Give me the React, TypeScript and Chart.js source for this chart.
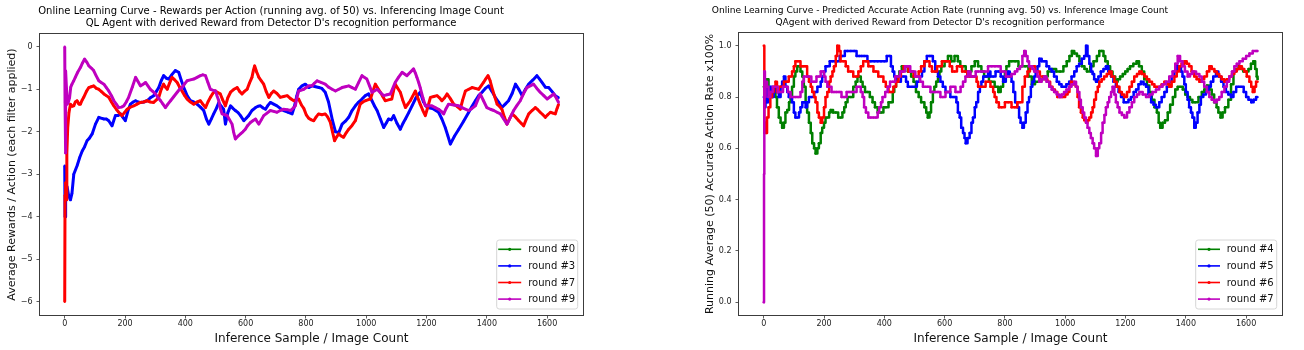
import React, { useEffect, useRef } from "react";
import { Chart, registerables } from "chart.js";

Chart.register(...registerables);

type Pt = [number, number];

// ---------- shared ----------
const X_TICKS = [0, 200, 400, 600, 800, 1000, 1200, 1400, 1600];
const X_MIN = -82;
const X_MAX = 1719;
const SERIES_COLORS = ["#008000", "#0000ff", "#ff0000", "#bf00bf"];
const X_TITLE = "Inference Sample / Image Count";

// ---------- left chart ----------
const LEFT_TITLE = [
  "Online Learning Curve - Rewards per Action (running avg. of 50) vs. Inferencing Image Count",
  "QL Agent with derived Reward from Detector D's recognition performance",
];
const LEFT_Y_TITLE = "Average Rewards / Action (each filter applied)";
const LEFT_Y_TICKS = [-6, -5, -4, -3, -2, -1, 0];
const LEFT_Y_MIN = -6.31;
const LEFT_Y_MAX = 0.3;
const LEFT_LABELS = ["round #0", "round #3", "round #7", "round #9"];

const REWARD_R0: Pt[] = [];

const REWARD_R3: Pt[] = [
  [0,-2.8],[1,-4.0],[3,-3.0],[5,-3.25],[8,-3.3],[13,-3.5],[19,-3.6],[24,-3.45],[30,-3.0],[41,-2.8],[50,-2.6],[58,-2.45],[66,-2.35],[74,-2.21],[82,-2.15],[91,-2.05],[102,-1.82],[113,-1.66],[121,-1.68],[130,-1.7],[138,-1.7],[146,-1.74],[157,-1.86],[168,-1.62],[177,-1.62],[185,-1.58],[193,-1.66],[201,-1.74],[210,-1.5],[218,-1.35],[227,-1.3],[235,-1.27],[243,-1.3],[251,-1.31],[262,-1.3],[273,-1.27],[284,-1.2],[295,-1.15],[304,-1.05],[312,-0.96],[320,-0.8],[328,-0.68],[337,-0.74],[345,-0.76],[356,-0.65],[367,-0.56],[378,-0.6],[387,-0.8],[395,-0.96],[406,-1.15],[417,-1.27],[428,-1.3],[439,-1.35],[450,-1.42],[461,-1.5],[470,-1.7],[478,-1.82],[486,-1.7],[494,-1.58],[503,-1.45],[511,-1.31],[519,-1.4],[527,-1.47],[533,-1.82],[541,-1.55],[550,-1.39],[558,-1.45],[566,-1.5],[575,-1.55],[583,-1.62],[594,-1.74],[602,-1.68],[610,-1.62],[621,-1.5],[633,-1.43],[641,-1.4],[649,-1.39],[658,-1.44],[666,-1.47],[674,-1.38],[682,-1.31],[693,-1.35],[704,-1.39],[715,-1.45],[726,-1.5],[740,-1.54],[754,-1.58],[760,-1.45],[765,-1.31],[770,-1.15],[776,-1.0],[787,-0.92],[798,-0.88],
  [809,-0.96],[820,-0.92],[832,-0.94],[843,-0.96],[853,-0.98],[864,-1.07],[875,-1.3],[887,-1.7],[898,-2.0],[909,-2.02],[920,-1.82],[931,-1.75],[942,-1.66],[953,-1.5],[964,-1.39],[975,-1.3],[986,-1.23],[997,-1.15],[1008,-1.11],[1019,-1.27],[1028,-1.4],[1036,-1.5],[1047,-1.7],[1058,-1.9],[1066,-1.8],[1074,-1.7],[1083,-1.72],[1091,-1.62],[1102,-1.8],[1113,-1.94],[1122,-1.8],[1130,-1.7],[1141,-1.55],[1152,-1.39],[1165,-1.2],[1179,-1.07],[1190,-1.3],[1202,-1.43],[1220,-1.45],[1240,-1.54],[1251,-1.7],[1262,-1.9],[1271,-2.1],[1279,-2.29],[1293,-2.1],[1307,-1.94],[1323,-1.75],[1340,-1.54],[1351,-1.4],[1362,-1.27],[1373,-1.15],[1384,-1.07],[1395,-0.98],[1406,-0.92],[1417,-1.05],[1428,-1.19],[1439,-1.3],[1450,-1.43],[1461,-1.35],[1472,-1.27],[1484,-1.1],[1495,-0.88],[1506,-1.0],[1517,-1.15],[1528,-1.0],[1539,-0.88],[1553,-0.78],[1566,-0.68],[1575,-0.76],[1583,-0.84],[1594,-0.95],[1605,-0.96],[1616,-1.05],[1627,-1.15],[1638,-1.2],
];

const REWARD_R7: Pt[] = [
  [0,-6.0],[1,-3.5],[3,-3.2],[5,-3.6],[7,-2.5],[10,-1.9],[14,-1.55],[19,-1.35],[25,-1.4],[30,-1.39],[35,-1.3],[41,-1.27],[47,-1.35],[52,-1.35],[58,-1.25],[63,-1.19],[72,-1.05],[80,-0.96],[88,-0.94],[96,-0.92],[105,-0.98],[113,-1.0],[121,-1.05],[130,-1.11],[138,-1.15],[146,-1.19],[155,-1.3],[163,-1.39],[171,-1.47],[179,-1.54],[190,-1.62],[198,-1.55],[207,-1.47],[218,-1.42],[229,-1.39],[240,-1.35],[251,-1.31],[262,-1.3],[273,-1.27],[284,-1.3],[295,-1.31],[304,-1.25],[312,-1.19],[320,-1.0],[328,-0.88],[334,-0.95],[340,-1.0],[348,-0.85],[356,-0.72],[365,-0.78],[373,-0.84],[381,-0.95],[389,-1.04],[398,-1.15],[406,-1.23],[417,-1.3],[428,-1.35],[439,-1.3],[450,-1.27],[458,-1.35],[467,-1.43],[475,-1.3],[483,-1.19],[491,-1.1],[500,-1.04],[508,-1.08],[516,-1.11],[524,-1.25],[533,-1.39],[541,-1.2],[550,-1.07],[561,-1.0],[572,-0.96],[580,-1.05],[588,-1.11],[596,-1.05],[605,-1.0],[613,-0.85],[621,-0.72],[626,-0.55],[630,-0.45],[637,-0.6],[644,-0.72],[652,-0.8],[660,-0.88],[668,-1.05],[677,-1.19],[685,-1.1],[693,-1.04],[704,-1.1],[715,-1.19],[726,-1.17],[738,-1.15],[749,-1.22],[760,-1.27],[768,-1.25],[776,-1.23],[785,-1.37],[793,-1.45],[801,-1.6],[809,-1.68],[818,-1.72],[826,-1.74],[834,-1.65],[842,-1.58],[853,-1.6],[864,-1.58],[872,-1.65],[881,-1.78],[888,-2.0],[895,-2.21],[902,-2.12],[909,-2.05],[917,-2.1],[925,-2.13],[933,-2.03],[942,-1.94],[953,-1.85],[964,-1.74],[972,-1.55],[980,-1.35],[989,-1.3],[997,-1.27],[1005,-1.25],[1014,-1.23],[1022,-1.05],[1030,-0.88],[1038,-0.97],[1047,-1.07],[1055,-1.17],[1063,-1.27],[1074,-1.25],[1085,-1.23],[1090,-1.05],[1096,-0.88],[1104,-0.97],[1113,-1.07],[1121,-1.25],[1130,-1.43],[1138,-1.35],[1146,-1.27],[1155,-1.15],[1163,-1.04],[1171,-1.2],[1179,-1.35],[1188,-1.5],[1196,-1.62],[1205,-1.4],[1213,-1.19],[1224,-1.17],[1235,-1.15],[1243,-1.2],[1251,-1.27],[1260,-1.2],[1268,-1.11],[1279,-1.22],[1290,-1.35],[1301,-1.4],[1312,-1.47],[1320,-1.25],[1329,-1.04],[1340,-1.0],[1351,-0.96],[1362,-0.98],[1373,-1.0],[1381,-0.92],[1389,-0.84],[1397,-0.75],[1404,-0.68],[1411,-0.8],[1417,-0.96],[1425,-1.15],[1434,-1.35],[1442,-1.4],[1450,-1.47],[1458,-1.65],[1467,-1.82],[1475,-1.7],[1484,-1.58],[1495,-1.65],[1506,-1.74],[1514,-1.8],[1522,-1.86],[1530,-1.72],[1539,-1.58],[1550,-1.5],[1561,-1.43],[1569,-1.48],[1577,-1.54],[1586,-1.6],[1594,-1.66],[1602,-1.6],[1611,-1.54],[1619,-1.56],[1627,-1.58],[1633,-1.45],[1638,-1.35],
];

const REWARD_R9: Pt[] = [
  [0,0.0],[1,-1.3],[2,-2.5],[4,-0.57],[6,-1.0],[8,-1.35],[12,-1.3],[16,-1.2],[20,-0.95],[24,-0.88],[30,-0.8],[35,-0.72],[43,-0.6],[52,-0.49],[59,-0.38],[66,-0.29],[73,-0.36],[80,-0.45],[88,-0.5],[96,-0.56],[104,-0.68],[113,-0.8],[121,-0.84],[130,-0.88],[138,-0.96],[146,-1.04],[155,-1.15],[163,-1.27],[171,-1.35],[179,-1.43],[188,-1.42],[196,-1.39],[204,-1.3],[212,-1.19],[224,-0.95],[235,-0.72],[243,-0.82],[251,-0.92],[260,-0.88],[268,-0.84],[276,-0.92],[284,-1.0],[292,-1.05],[301,-1.11],[310,-1.2],[318,-1.27],[326,-1.35],[334,-1.43],[342,-1.35],[351,-1.27],[362,-1.17],[373,-1.07],[381,-1.0],[389,-0.96],[397,-0.88],[406,-0.8],[417,-0.78],[428,-0.76],[439,-0.72],[450,-0.68],[458,-0.66],[467,-0.68],[475,-0.84],[483,-1.0],[491,-1.02],[500,-1.04],[505,-1.15],[511,-1.27],[516,-1.45],[522,-1.58],[530,-1.6],[539,-1.62],[547,-1.72],[555,-1.82],[560,-2.0],[566,-2.17],[575,-2.1],[583,-2.05],[591,-2.0],[599,-1.94],[607,-1.85],[616,-1.78],[624,-1.74],[633,-1.7],[638,-1.76],[644,-1.82],[652,-1.72],[660,-1.62],[671,-1.56],[682,-1.5],[693,-1.52],[704,-1.54],[715,-1.5],[726,-1.47],[738,-1.48],[749,-1.5],[757,-1.45],[765,-1.39],[770,-1.2],[776,-1.04],[785,-1.02],[793,-1.0],[801,-0.96],[809,-0.92],[820,-0.92],[828,-0.86],[837,-0.8],[850,-0.84],[864,-0.88],[875,-0.95],[887,-1.0],[898,-1.04],[909,-1.0],[920,-0.96],[931,-0.94],[942,-0.92],[953,-0.96],[964,-1.0],[975,-0.84],[986,-0.68],[994,-0.72],[1002,-0.76],[1011,-0.92],[1019,-1.07],[1027,-1.04],[1036,-1.0],[1047,-1.08],[1058,-1.15],[1069,-1.13],[1080,-1.11],[1088,-0.98],[1096,-0.84],[1107,-0.72],[1119,-0.6],[1127,-0.64],[1135,-0.68],[1146,-0.6],[1157,-0.52],[1163,-0.62],[1168,-0.72],[1174,-0.84],[1179,-0.96],[1188,-1.2],[1196,-1.39],[1207,-1.39],[1218,-1.39],[1229,-1.43],[1240,-1.47],[1249,-1.52],[1257,-1.58],[1265,-1.45],[1273,-1.35],[1290,-1.37],[1307,-1.39],[1323,-1.45],[1340,-1.5],[1351,-1.45],[1362,-1.39],[1370,-1.25],[1378,-1.11],[1389,-1.27],[1400,-1.43],[1412,-1.47],[1423,-1.5],[1434,-1.54],[1445,-1.58],[1456,-1.7],[1467,-1.82],[1478,-1.66],[1489,-1.5],[1500,-1.38],[1511,-1.27],[1522,-1.1],[1533,-0.96],[1544,-0.92],[1555,-0.88],[1566,-0.98],[1577,-1.07],[1589,-1.15],[1600,-1.23],[1611,-1.17],[1622,-1.11],[1630,-1.2],[1638,-1.31],
];

// ---------- right chart ----------
const RIGHT_TITLE = [
  "Online Learning Curve - Predicted Accurate Action Rate (running avg. 50) vs. Inference Image Count",
  "QAgent with derived Reward from Detector D's recognition performance",
];
const RIGHT_Y_TITLE = "Running Average (50) Accurate Action Rate x100%";
const RIGHT_Y_TICKS = [0, 0.2, 0.4, 0.6, 0.8, 1.0];
const RIGHT_Y_MIN = -0.05;
const RIGHT_Y_MAX = 1.05;
const RIGHT_LABELS = ["round #4", "round #5", "round #6", "round #7"];

const ACC_R4: Pt[] = [
  [0,0.84],[3,0.86],[6,0.85],[11,0.87],[16,0.82],[22,0.8],[30,0.82],[39,0.8],[44,0.76],[50,0.72],[56,0.7],[61,0.68],[67,0.7],[72,0.74],[78,0.75],[84,0.78],[89,0.8],[94,0.84],[100,0.88],[105,0.9],[111,0.92],[117,0.92],[122,0.9],[128,0.88],[133,0.84],[139,0.78],[144,0.74],[150,0.7],[156,0.66],[161,0.62],[167,0.6],[172,0.58],[178,0.6],[183,0.62],[189,0.66],[194,0.68],[200,0.7],[205,0.72],[211,0.72],[217,0.74],[222,0.75],[230,0.74],[239,0.74],[247,0.72],[255,0.72],[261,0.74],[267,0.76],[272,0.78],[278,0.8],[289,0.8],[297,0.84],[305,0.86],[311,0.88],[317,0.88],[322,0.86],[328,0.84],[336,0.82],[344,0.82],[352,0.8],[361,0.78],[369,0.76],[378,0.74],[389,0.74],[397,0.76],[405,0.76],[414,0.78],[422,0.78],[428,0.82],[433,0.84],[439,0.86],[444,0.88],[450,0.9],[458,0.92],[467,0.92],[478,0.9],[489,0.88],[497,0.86],[505,0.82],[514,0.8],[522,0.78],[533,0.76],[539,0.74],[544,0.72],[550,0.74],[555,0.78],[561,0.82],[566,0.84],[572,0.86],[578,0.88],[583,0.9],[589,0.92],[600,0.94],[611,0.96],[622,0.94],[633,0.96],[644,0.94],[652,0.92],[661,0.92],[670,0.9],[678,0.9],[689,0.92],[700,0.94],[711,0.92],[722,0.9],[731,0.88],[739,0.88],[747,0.86],[755,0.86],[766,0.84],[778,0.82],[786,0.84],[794,0.86],[800,0.9],[805,0.92],[814,0.94],[822,0.94],[834,0.94],[845,0.92],[856,0.92],[867,0.92],[878,0.88],[889,0.85],[900,0.86],[911,0.86],[920,0.87],[928,0.88],[942,0.9],[956,0.91],[970,0.9],[983,0.9],[994,0.92],[1005,0.94],[1014,0.96],[1022,0.98],[1030,0.97],[1039,0.96],[1047,0.94],[1055,0.92],[1064,0.91],[1072,0.9],[1083,0.92],[1094,0.94],[1105,0.96],[1113,0.98],[1121,0.98],[1127,0.96],[1133,0.94],[1141,0.92],[1149,0.9],[1157,0.88],[1166,0.86],[1174,0.87],[1182,0.88],[1191,0.89],[1199,0.9],[1207,0.91],[1215,0.92],[1226,0.93],[1237,0.94],[1245,0.92],[1254,0.9],[1262,0.87],[1271,0.845],[1279,0.82],[1287,0.79],[1296,0.76],[1304,0.74],[1310,0.7],[1315,0.68],[1323,0.7],[1331,0.71],[1340,0.74],[1348,0.77],[1357,0.8],[1365,0.83],[1373,0.84],[1381,0.84],[1390,0.83],[1398,0.81],[1406,0.8],[1414,0.79],[1422,0.78],[1431,0.78],[1442,0.8],[1453,0.82],[1461,0.83],[1470,0.845],[1478,0.83],[1486,0.81],[1494,0.78],[1502,0.76],[1508,0.74],[1515,0.72],[1522,0.74],[1530,0.76],[1541,0.79],[1550,0.85],[1558,0.9],[1566,0.91],[1575,0.92],[1583,0.91],[1591,0.9],[1600,0.9],[1608,0.91],[1616,0.93],[1624,0.94],[1630,0.91],[1635,0.88],[1638,0.87],
];

const ACC_R5: Pt[] = [
  [0,0.8],[3,0.76],[6,0.84],[11,0.78],[16,0.82],[22,0.84],[28,0.8],[33,0.82],[39,0.84],[44,0.82],[50,0.8],[56,0.84],[61,0.86],[67,0.88],[72,0.84],[78,0.82],[83,0.8],[89,0.8],[94,0.78],[100,0.74],[105,0.72],[111,0.72],[117,0.74],[122,0.76],[128,0.78],[133,0.78],[139,0.76],[144,0.78],[150,0.8],[158,0.8],[167,0.82],[172,0.82],[178,0.84],[183,0.84],[189,0.86],[194,0.88],[200,0.9],[205,0.92],[211,0.92],[219,0.94],[228,0.94],[236,0.94],[244,0.94],[252,0.96],[261,0.96],[269,0.98],[278,0.98],[289,0.98],[300,0.98],[308,0.96],[317,0.96],[325,0.96],[333,0.96],[344,0.94],[355,0.94],[367,0.94],[378,0.94],[389,0.94],[400,0.94],[408,0.96],[417,0.96],[422,0.92],[428,0.9],[433,0.88],[439,0.86],[447,0.86],[455,0.88],[464,0.88],[472,0.86],[478,0.84],[483,0.84],[492,0.84],[500,0.84],[508,0.86],[517,0.88],[525,0.9],[533,0.94],[541,0.96],[550,0.96],[555,0.96],[561,0.94],[569,0.9],[578,0.88],[586,0.86],[594,0.84],[603,0.82],[611,0.82],[619,0.8],[628,0.8],[633,0.8],[639,0.78],[644,0.74],[650,0.72],[655,0.68],[661,0.66],[666,0.64],[670,0.62],[676,0.64],[683,0.66],[689,0.7],[694,0.72],[700,0.76],[705,0.78],[711,0.82],[717,0.84],[722,0.86],[728,0.88],[736,0.88],[744,0.9],[752,0.88],[761,0.88],[769,0.9],[778,0.9],[786,0.88],[794,0.86],[803,0.88],[811,0.9],[816,0.88],[822,0.86],[828,0.82],[834,0.78],[841,0.76],[847,0.72],[852,0.7],[858,0.68],[863,0.7],[869,0.74],[875,0.78],[880,0.8],[886,0.84],[891,0.86],[897,0.88],[902,0.9],[908,0.92],[914,0.95],[922,0.94],[930,0.94],[938,0.92],[947,0.91],[955,0.9],[963,0.88],[972,0.86],[980,0.85],[988,0.84],[996,0.84],[1004,0.85],[1013,0.86],[1021,0.88],[1030,0.9],[1038,0.92],[1046,0.93],[1055,0.95],[1063,0.96],[1069,1.0],[1074,0.96],[1080,0.93],[1086,0.9],[1091,0.89],[1096,0.87],[1102,0.86],[1110,0.88],[1118,0.9],[1127,0.91],[1135,0.92],[1143,0.9],[1152,0.88],[1160,0.86],[1168,0.84],[1177,0.82],[1185,0.8],[1194,0.78],[1202,0.78],[1210,0.79],[1218,0.8],[1227,0.82],[1235,0.83],[1243,0.85],[1251,0.86],[1260,0.85],[1268,0.84],[1276,0.81],[1285,0.78],[1293,0.77],[1301,0.76],[1307,0.76],[1312,0.78],[1320,0.8],[1329,0.82],[1337,0.84],[1345,0.86],[1353,0.88],[1362,0.9],[1370,0.92],[1378,0.92],[1384,0.9],[1389,0.88],[1395,0.85],[1400,0.82],[1406,0.79],[1411,0.76],[1417,0.74],[1422,0.72],[1428,0.68],[1433,0.7],[1439,0.74],[1445,0.77],[1450,0.8],[1458,0.81],[1467,0.82],[1475,0.84],[1483,0.86],[1491,0.88],[1500,0.9],[1508,0.88],[1517,0.86],[1525,0.84],[1533,0.82],[1541,0.81],[1550,0.8],[1558,0.82],[1567,0.84],[1575,0.84],[1583,0.84],[1592,0.82],[1600,0.8],[1608,0.79],[1617,0.78],[1625,0.79],[1633,0.8],[1638,0.8],
];

const ACC_R6: Pt[] = [
  [0,1.0],[2,0.66],[5,0.7],[8,0.66],[11,0.72],[16,0.76],[22,0.8],[28,0.82],[33,0.84],[39,0.86],[44,0.82],[50,0.84],[56,0.84],[61,0.84],[67,0.86],[72,0.86],[78,0.86],[83,0.88],[89,0.88],[94,0.9],[100,0.92],[105,0.94],[111,0.94],[117,0.94],[122,0.92],[128,0.92],[133,0.92],[139,0.92],[144,0.88],[150,0.86],[156,0.84],[161,0.82],[167,0.8],[172,0.78],[178,0.74],[183,0.72],[189,0.7],[194,0.72],[200,0.76],[205,0.8],[211,0.82],[217,0.86],[222,0.88],[228,0.9],[233,0.92],[239,0.96],[244,1.0],[250,0.98],[255,0.94],[264,0.94],[272,0.92],[280,0.9],[289,0.9],[297,0.88],[305,0.88],[314,0.9],[322,0.92],[330,0.94],[339,0.94],[347,0.92],[355,0.92],[364,0.9],[372,0.9],[380,0.88],[389,0.88],[397,0.86],[405,0.84],[414,0.82],[422,0.82],[430,0.84],[439,0.86],[447,0.88],[455,0.9],[464,0.92],[472,0.92],[480,0.9],[489,0.9],[497,0.88],[505,0.88],[514,0.9],[522,0.92],[533,0.94],[541,0.94],[550,0.92],[558,0.9],[566,0.9],[575,0.92],[583,0.92],[591,0.94],[600,0.94],[608,0.94],[617,0.92],[625,0.9],[633,0.9],[641,0.92],[650,0.92],[658,0.9],[667,0.9],[675,0.88],[683,0.88],[692,0.88],[700,0.88],[706,0.86],[711,0.84],[719,0.84],[728,0.84],[736,0.86],[744,0.86],[752,0.84],[761,0.82],[766,0.8],[772,0.78],[780,0.76],[789,0.76],[800,0.78],[811,0.78],[822,0.76],[833,0.76],[841,0.78],[850,0.78],[858,0.84],[866,0.88],[875,0.9],[883,0.92],[891,0.92],[900,0.9],[908,0.9],[916,0.88],[925,0.88],[933,0.87],[941,0.86],[950,0.84],[958,0.83],[966,0.82],[974,0.8],[983,0.8],[991,0.8],[1000,0.81],[1008,0.82],[1014,0.84],[1019,0.86],[1027,0.85],[1035,0.84],[1041,0.8],[1046,0.76],[1052,0.74],[1058,0.72],[1063,0.71],[1069,0.7],[1074,0.71],[1080,0.72],[1086,0.74],[1091,0.76],[1096,0.79],[1102,0.82],[1108,0.84],[1113,0.86],[1121,0.87],[1129,0.88],[1138,0.89],[1146,0.9],[1154,0.88],[1163,0.86],[1171,0.84],[1180,0.82],[1188,0.81],[1196,0.8],[1205,0.82],[1213,0.84],[1221,0.86],[1229,0.88],[1238,0.89],[1246,0.9],[1254,0.89],[1263,0.88],[1271,0.87],[1279,0.86],[1288,0.85],[1296,0.84],[1304,0.84],[1312,0.84],[1320,0.85],[1329,0.86],[1337,0.85],[1345,0.84],[1353,0.86],[1362,0.88],[1370,0.9],[1378,0.92],[1386,0.93],[1395,0.94],[1403,0.93],[1411,0.92],[1419,0.9],[1428,0.88],[1436,0.87],[1445,0.86],[1453,0.87],[1461,0.88],[1470,0.9],[1478,0.92],[1486,0.91],[1495,0.9],[1503,0.89],[1511,0.88],[1519,0.87],[1528,0.86],[1536,0.87],[1544,0.88],[1553,0.89],[1561,0.9],[1569,0.91],[1578,0.92],[1586,0.91],[1594,0.9],[1602,0.88],[1611,0.86],[1617,0.84],[1622,0.82],[1628,0.84],[1633,0.86],[1638,0.86],
];

const ACC_R7: Pt[] = [
  [0,0.0],[1,0.5],[2,0.9],[4,0.8],[6,0.86],[11,0.84],[16,0.8],[22,0.82],[30,0.84],[39,0.84],[47,0.82],[56,0.82],[64,0.84],[72,0.84],[80,0.82],[89,0.8],[97,0.8],[105,0.8],[114,0.8],[122,0.82],[128,0.86],[133,0.88],[142,0.88],[150,0.88],[158,0.86],[167,0.86],[175,0.88],[183,0.88],[189,0.9],[194,0.9],[200,0.88],[205,0.86],[211,0.84],[217,0.84],[225,0.82],[233,0.82],[241,0.82],[250,0.82],[258,0.8],[267,0.8],[275,0.82],[283,0.82],[292,0.82],[300,0.82],[308,0.84],[317,0.84],[322,0.82],[328,0.8],[333,0.76],[339,0.74],[347,0.72],[355,0.72],[364,0.72],[372,0.72],[378,0.74],[383,0.76],[389,0.78],[394,0.8],[403,0.82],[411,0.84],[419,0.86],[428,0.86],[436,0.88],[444,0.88],[452,0.9],[461,0.9],[469,0.92],[478,0.92],[486,0.9],[494,0.9],[503,0.88],[511,0.88],[519,0.86],[528,0.84],[536,0.84],[544,0.84],[553,0.82],[561,0.82],[569,0.82],[578,0.82],[586,0.8],[594,0.8],[603,0.82],[611,0.82],[619,0.84],[628,0.84],[636,0.82],[644,0.82],[653,0.84],[661,0.86],[669,0.88],[678,0.9],[686,0.88],[694,0.88],[703,0.9],[711,0.9],[722,0.9],[733,0.9],[744,0.92],[756,0.92],[767,0.92],[778,0.92],[786,0.9],[794,0.9],[803,0.88],[811,0.88],[822,0.89],[833,0.9],[841,0.91],[850,0.92],[858,0.96],[864,0.98],[869,0.96],[875,0.94],[880,0.92],[886,0.92],[891,0.91],[897,0.9],[902,0.9],[908,0.88],[914,0.86],[922,0.87],[930,0.88],[938,0.86],[947,0.84],[955,0.83],[963,0.82],[972,0.81],[980,0.8],[988,0.81],[996,0.82],[1004,0.83],[1013,0.84],[1021,0.85],[1030,0.86],[1036,0.84],[1041,0.82],[1047,0.79],[1052,0.76],[1058,0.74],[1063,0.72],[1069,0.7],[1074,0.68],[1080,0.66],[1085,0.64],[1091,0.62],[1096,0.6],[1102,0.57],[1108,0.6],[1113,0.62],[1119,0.66],[1124,0.7],[1130,0.73],[1135,0.76],[1141,0.78],[1146,0.8],[1152,0.82],[1157,0.84],[1163,0.81],[1168,0.78],[1174,0.76],[1180,0.74],[1188,0.73],[1196,0.72],[1205,0.74],[1213,0.76],[1221,0.78],[1229,0.8],[1238,0.81],[1246,0.82],[1257,0.81],[1268,0.8],[1279,0.81],[1290,0.82],[1301,0.83],[1312,0.84],[1323,0.85],[1334,0.86],[1345,0.88],[1356,0.9],[1365,0.93],[1373,0.96],[1381,0.94],[1389,0.92],[1397,0.9],[1406,0.88],[1414,0.89],[1422,0.9],[1434,0.89],[1445,0.88],[1453,0.86],[1461,0.84],[1470,0.82],[1478,0.8],[1486,0.79],[1495,0.78],[1503,0.79],[1511,0.8],[1519,0.82],[1528,0.84],[1536,0.86],[1544,0.88],[1553,0.9],[1561,0.92],[1569,0.93],[1578,0.94],[1589,0.95],[1600,0.96],[1611,0.97],[1622,0.98],[1633,0.98],[1638,0.98],
];

// ---------- plugins ----------
const FONT = "DejaVu Sans";

function titlePlugin(lines: string[], centerX: number, ys: number[], size: number) {
  return {
    id: "mplTitle",
    afterDraw(chart: any) {
      const ctx = chart.ctx;
      ctx.save();
      ctx.fillStyle = "#000";
      ctx.font = `${size}px "${FONT}"`;
      ctx.textAlign = "center";
      ctx.textBaseline = "middle";
      lines.forEach((l, i) => ctx.fillText(l, centerX, ys[i]));
      ctx.restore();
    },
  };
}

const framePlugin = {
  id: "mplFrame",
  afterDatasetsDraw(chart: any) {
    const { ctx, chartArea: a } = chart;
    ctx.save();
    ctx.strokeStyle = "#3c3c3c";
    ctx.lineWidth = 1;
    ctx.strokeRect(
      Math.round(a.left) - 0.5,
      Math.round(a.top) - 0.5,
      Math.round(a.right - a.left) + 1,
      Math.round(a.bottom - a.top) + 1
    );
    ctx.restore();
  },
};

function legendPlugin(lineStart: number, lineEnd: number, textX: number) {
  return {
    id: "mplLegend",
    afterDraw(chart: any) {
      const { ctx, chartArea: a } = chart;
      const w = 81;
      const h = 69;
      const right = a.right - 5.3;
      const bottom = a.bottom - 6;
      const left = right - w;
      const top = bottom - h;
      ctx.save();
      ctx.beginPath();
      const r = 2.5;
      ctx.moveTo(left + r, top);
      ctx.lineTo(right - r, top);
      ctx.quadraticCurveTo(right, top, right, top + r);
      ctx.lineTo(right, bottom - r);
      ctx.quadraticCurveTo(right, bottom, right - r, bottom);
      ctx.lineTo(left + r, bottom);
      ctx.quadraticCurveTo(left, bottom, left, bottom - r);
      ctx.lineTo(left, top + r);
      ctx.quadraticCurveTo(left, top, left + r, top);
      ctx.closePath();
      ctx.fillStyle = "rgba(255,255,255,0.85)";
      ctx.fill();
      ctx.strokeStyle = "#d6d6d6";
      ctx.lineWidth = 1;
      ctx.stroke();
      chart.data.datasets.forEach((ds: any, i: number) => {
        const y = top + 9.3 + i * 16.6;
        ctx.strokeStyle = ds.borderColor;
        ctx.lineWidth = 1.6;
        ctx.beginPath();
        ctx.moveTo(left + lineStart, y);
        ctx.lineTo(left + lineEnd, y);
        ctx.stroke();
        ctx.fillStyle = ds.borderColor;
        ctx.beginPath();
        ctx.arc(left + (lineStart + lineEnd) / 2, y, 1.6, 0, Math.PI * 2);
        ctx.fill();
        ctx.fillStyle = "#111";
        ctx.font = `10px "${FONT}"`;
        ctx.textAlign = "left";
        ctx.textBaseline = "middle";
        ctx.fillText(ds.label, left + textX, y + 0.5);
      });
      ctx.restore();
    },
  };
}

// ---------- config builder ----------
interface PanelSpec {
  series: Pt[][];
  labels: string[];
  yMin: number;
  yMax: number;
  yTicks: number[];
  yFormat: (v: number) => string;
  yTitle: string;
  title: string[];
  titleX: number;
  titleYs: number[];
  titleSize: number;
  padLeft: number;
  yWidth: number;
  padTop: number;
  padRight: number;
  lineWidth: number;
  stepped: boolean;
  legendLine: [number, number, number];
}

function buildConfig(p: PanelSpec): any {
  const n = p.series.length;
  const tickFont = { family: FONT, size: 8 };
  return {
    type: "line",
    data: {
      datasets: p.series.map((s, i) => ({
        label: p.labels[i],
        data: s.map(([x, y]) => ({ x, y })),
        borderColor: SERIES_COLORS[i],
        backgroundColor: SERIES_COLORS[i],
        borderWidth: p.lineWidth,
        pointRadius: 1.2,
        pointBorderWidth: 0,
        pointHoverRadius: 0,
        tension: 0,
        stepped: p.stepped,
        borderJoinStyle: "round",
        fill: false,
        order: n - 1 - i,
      })),
    },
    options: {
      animation: false,
      responsive: false,
      maintainAspectRatio: false,
      events: [],
      layout: {
        padding: { left: p.padLeft, top: p.padTop, right: p.padRight, bottom: 0 },
      },
      plugins: {
        legend: { display: false },
        title: { display: false },
        tooltip: { enabled: false },
      },
      scales: {
        x: {
          type: "linear",
          min: X_MIN,
          max: X_MAX,
          afterBuildTicks: (scale: any) => {
            scale.ticks = X_TICKS.map((v) => ({ value: v }));
          },
          afterFit: (scale: any) => {
            scale.height = 35;
          },
          ticks: {
            font: tickFont,
            color: "#222",
            padding: 1,
            maxRotation: 0,
            autoSkip: false,
            callback: (v: number) => String(v),
          },
          grid: {
            display: true,
            drawOnChartArea: false,
            drawTicks: true,
            tickLength: 3.5,
            tickColor: "#333",
            tickWidth: 0.8,
          },
          border: { display: false },
          title: {
            display: true,
            text: X_TITLE,
            color: "#111",
            font: { family: FONT, size: 12 },
            padding: { top: 0, bottom: 4 },
          },
        },
        y: {
          type: "linear",
          min: p.yMin,
          max: p.yMax,
          afterBuildTicks: (scale: any) => {
            scale.ticks = p.yTicks.map((v) => ({ value: v }));
          },
          afterFit: (scale: any) => {
            scale.width = p.yWidth;
          },
          ticks: {
            font: tickFont,
            color: "#222",
            padding: 4,
            autoSkip: false,
            callback: (v: number) => p.yFormat(v),
          },
          grid: {
            display: true,
            drawOnChartArea: false,
            drawTicks: true,
            tickLength: 3.5,
            tickColor: "#333",
            tickWidth: 0.8,
          },
          border: { display: false },
          title: {
            display: true,
            text: p.yTitle,
            color: "#111",
            font: { family: FONT, size: 11 },
            padding: { top: 4, bottom: 4 },
          },
        },
      },
    },
    plugins: [
      framePlugin,
      legendPlugin(p.legendLine[0], p.legendLine[1], p.legendLine[2]),
      titlePlugin(p.title, p.titleX, p.titleYs, p.titleSize),
    ],
  };
}

const LEFT_SPEC: PanelSpec = {
  series: [REWARD_R0, REWARD_R3, REWARD_R7, REWARD_R9],
  labels: LEFT_LABELS,
  yMin: LEFT_Y_MIN,
  yMax: LEFT_Y_MAX,
  yTicks: LEFT_Y_TICKS,
  yFormat: (v) => (v < 0 ? "\u2212" + Math.abs(v) : String(v)),
  yTitle: LEFT_Y_TITLE,
  title: LEFT_TITLE,
  titleX: 271,
  titleYs: [11.5, 23.5],
  titleSize: 10,
  padLeft: 1.5,
  yWidth: 38.5,
  padTop: 34,
  padRight: 69,
  lineWidth: 3,
  stepped: false,
  legendLine: [1.5, 24.5, 31.5],
};

const RIGHT_SPEC: PanelSpec = {
  series: [ACC_R4, ACC_R5, ACC_R6, ACC_R7],
  labels: RIGHT_LABELS,
  yMin: RIGHT_Y_MIN,
  yMax: RIGHT_Y_MAX,
  yTicks: RIGHT_Y_TICKS,
  yFormat: (v) => v.toFixed(1),
  yTitle: RIGHT_Y_TITLE,
  title: RIGHT_TITLE,
  titleX: 288,
  titleYs: [10.5, 23],
  titleSize: 9.1,
  padLeft: 47.4,
  yWidth: 39.6,
  padTop: 33,
  padRight: 22,
  lineWidth: 2.5,
  stepped: true,
  legendLine: [2.3, 24.3, 31],
};

function Panel({ left, spec }: { left: number; spec: PanelSpec }) {
  const ref = useRef<HTMLCanvasElement>(null);
  useEffect(() => {
    if (!ref.current) return;
    const chart = new Chart(ref.current, buildConfig(spec));
    return () => chart.destroy();
  }, [spec]);
  return (
    <div style={{ position: "absolute", left, top: 0, width: 652, height: 350 }}>
      <canvas ref={ref} width={652} height={350} style={{ display: "block", width: 652, height: 350 }} />
    </div>
  );
}

export default function App() {
  return (
    <div
      style={{
        position: "absolute",
        left: 0,
        top: 0,
        width: 1304,
        height: 350,
        background: "#ffffff",
        overflow: "hidden",
      }}
    >
      <Panel left={0} spec={LEFT_SPEC} />
      <Panel left={652} spec={RIGHT_SPEC} />
    </div>
  );
}
